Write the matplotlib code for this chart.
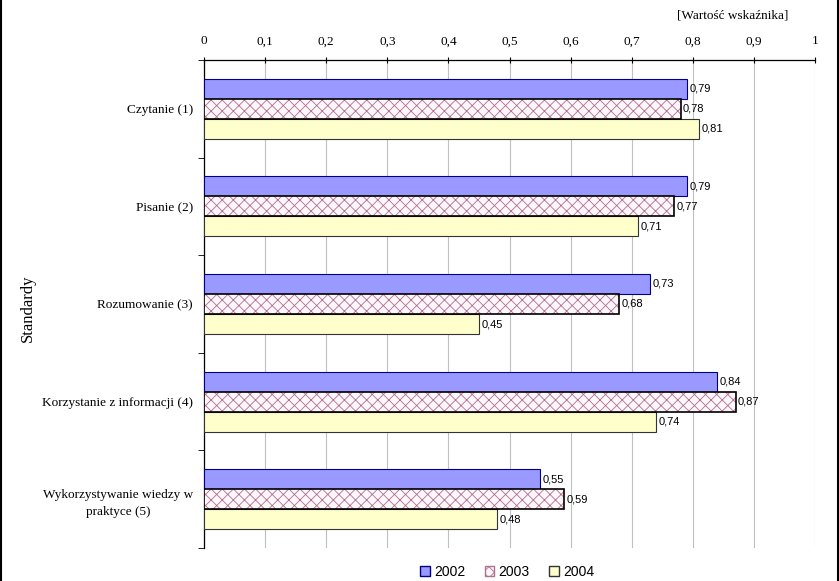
import matplotlib
matplotlib.use("Agg")
import matplotlib.pyplot as plt
import numpy as np
from matplotlib.patches import Patch
from matplotlib.lines import Line2D

categories = ["Czytanie (1)", "Pisanie (2)", "Rozumowanie (3)",
              "Korzystanie z informacji (4)", "Wykorzystywanie wiedzy w\npraktyce (5)"]
years = ["2002", "2003", "2004"]
v2002 = [0.79, 0.79, 0.73, 0.84, 0.55]
v2003 = [0.78, 0.77, 0.68, 0.87, 0.59]
v2004 = [0.81, 0.71, 0.45, 0.74, 0.48]
xticks = [0, 0.1, 0.2, 0.3, 0.4, 0.5, 0.6, 0.7, 0.8, 0.9, 1]
xticklabels = ["0", "0,1", "0,2", "0,3", "0,4", "0,5", "0,6", "0,7", "0,8", "0,9", "1"]

serif = "Liberation Serif"
sans = "Liberation Sans"
plt.rcParams["hatch.linewidth"] = 0.6

fig = plt.figure(figsize=(8.39, 5.81), dpi=100)
ax = fig.add_axes([204/839, 1-548/581, (815-204)/839, (548-60)/581])

y = np.arange(len(categories))
h = 0.205
series = [v2002, v2003, v2004]
offsets = [-h, 0, h]

ax.barh(y + offsets[0], v2002, height=h, color="#9999FF", edgecolor="#000080", linewidth=0.8, zorder=3)
ax.barh(y + offsets[1], v2003, height=h, color="#fdf6fa", edgecolor="#b07090", hatch="xxx", linewidth=0, zorder=3)
ax.barh(y + offsets[1], v2003, height=h, color="none", edgecolor="black", linewidth=1.2, zorder=4)
ax.barh(y + offsets[2], v2004, height=h, color="#FFFFCC", edgecolor="#333333", linewidth=0.8, zorder=3)

for vals, off in zip(series, offsets):
    for yi, v in zip(y, vals):
        ax.text(v + 0.004, yi + off, f"{v:.2f}".replace(".", ","), va="center", ha="left",
                fontsize=8, family=sans, zorder=5)

ax.set_xlim(0, 1)
ax.set_ylim(len(categories) - 0.5, -0.5)
ax.xaxis.tick_top()
ax.set_xticks(xticks)
ax.set_xticklabels(xticklabels, family=serif, fontsize=9.5)
ax.tick_params(axis="x", direction="inout", length=4, pad=7, colors="black")
ax.set_yticks(y)
ax.set_yticklabels(categories, family=serif, fontsize=9.5)
for lbl in ax.get_yticklabels():
    lbl.set_multialignment("center")
    lbl.set_linespacing(1.6)
ax.set_yticks(np.arange(-0.5, len(categories) + 0.5, 1), minor=True)
ax.tick_params(axis="y", which="major", length=0, pad=8)
ax.tick_params(axis="y", which="minor", length=4, direction="out")
ax.grid(axis="x", color="#c0c0c0", linewidth=0.8, zorder=0)
ax.spines["right"].set_visible(False)
ax.spines["bottom"].set_visible(False)
ax.spines["top"].set_linewidth(0.9)
ax.spines["left"].set_linewidth(0.9)

fig.text(28/839, 1-308/581, "Standardy", rotation=90, va="center", ha="center",
         family=serif, fontsize=12)
fig.text(733/839, 1-16/581, "[Wartość wskaźnika]", va="center", ha="center",
         family=serif, fontsize=9.5)

handles = [Patch(facecolor="#9999FF", edgecolor="#000080"),
           Patch(facecolor="#fdf6fa", edgecolor="#b07090", hatch="xxx"),
           Patch(facecolor="#FFFFCC", edgecolor="#333333")]
fig.legend(handles, years, loc="center", bbox_to_anchor=(507/839, 1-572/581), ncol=3,
           frameon=False, prop={"family": sans, "size": 10}, handlelength=0.7,
           handleheight=0.7, columnspacing=1.4, handletextpad=0.3)

for xx in (0.0012, 0.9988):
    fig.add_artist(Line2D([xx, xx], [0, 1], transform=fig.transFigure, color="black", linewidth=1.5))

fig.savefig("out.png", dpi=100)
